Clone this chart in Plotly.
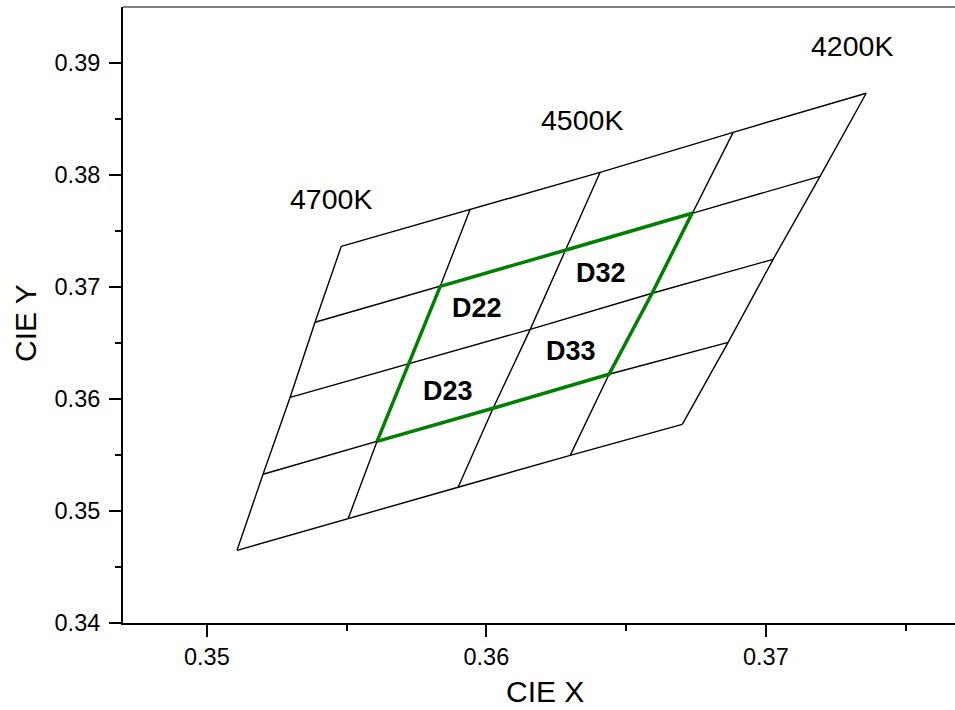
import plotly.graph_objects as go

# Grid nodes (rows = Duv lines bottom->top, columns = CCT lines left->right)
grid_x = [
    [0.35108, 0.35506, 0.35899, 0.36300, 0.36701],
    [0.35201, 0.35609, 0.36024, 0.36439, 0.36865],
    [0.35298, 0.35724, 0.36157, 0.36593, 0.37026],
    [0.35387, 0.35835, 0.36282, 0.36736, 0.37194],
    [0.35481, 0.35942, 0.36407, 0.36883, 0.37359],
]
grid_y = [
    [0.34649, 0.34935, 0.35212, 0.35497, 0.35774],
    [0.35328, 0.35622, 0.35917, 0.36221, 0.36506],
    [0.36015, 0.36319, 0.36622, 0.36944, 0.37247],
    [0.36685, 0.37006, 0.37328, 0.37658, 0.37988],
    [0.37363, 0.37694, 0.38024, 0.38381, 0.38730],
]
# highlighted bin outline: (row, col) node path
green_path = [(1, 1), (2, 1), (3, 1), (3, 2), (3, 3), (2, 3), (1, 3), (1, 2), (1, 1)]

cct_labels = ["4700K", "4500K", "4200K"]
cct_label_x = [0.35445, 0.36342, 0.37309]
cct_label_y = [0.37790, 0.38489, 0.39149]

bin_labels = ["D22", "D32", "D33", "D23"]
bin_label_x = [0.35966, 0.36409, 0.36302, 0.35863]
bin_label_y = [0.36810, 0.37126, 0.36427, 0.36069]

x_ticks = [0.35, 0.36, 0.37]
y_ticks = [0.34, 0.35, 0.36, 0.37, 0.38, 0.39]

FONT = "Liberation Sans, Arial, sans-serif"

W, H = 955, 710
ML, MR, MT, MB = 123, 0, 7, 87
pw = W - ML - MR
ph = H - MT - MB

fig = go.Figure()
nrows = len(grid_x)
ncols = len(grid_x[0])
for r in range(nrows):
    fig.add_trace(go.Scatter(x=grid_x[r], y=grid_y[r], mode="lines",
                             line=dict(color="black", width=1.4),
                             showlegend=False, hoverinfo="skip"))
for c in range(ncols):
    fig.add_trace(go.Scatter(x=[grid_x[r][c] for r in range(nrows)],
                             y=[grid_y[r][c] for r in range(nrows)], mode="lines",
                             line=dict(color="black", width=1.4),
                             showlegend=False, hoverinfo="skip"))
fig.add_trace(go.Scatter(x=[grid_x[r][c] for r, c in green_path],
                         y=[grid_y[r][c] for r, c in green_path], mode="lines",
                         line=dict(color="#008000", width=3.5),
                         showlegend=False, hoverinfo="skip"))

annotations = []
for t, x, y in zip(cct_labels, cct_label_x, cct_label_y):
    annotations.append(dict(x=x, y=y, xref="x", yref="y", text=t, showarrow=False,
                            font=dict(family=FONT, size=28.5, color="black"),
                            xanchor="center", yanchor="middle"))
for t, x, y in zip(bin_labels, bin_label_x, bin_label_y):
    annotations.append(dict(x=x, y=y, xref="x", yref="y", text="<b>" + t + "</b>",
                            showarrow=False,
                            font=dict(family=FONT, size=27, color="black"),
                            xanchor="center", yanchor="middle"))

# axis titles placed at page pixel positions
def px_to_paper(px, py):
    return (px - ML) / pw, (MT + ph - py) / ph

tx, ty = px_to_paper(545, 692)
annotations.append(dict(x=tx, y=ty, xref="paper", yref="paper", text="CIE X",
                        showarrow=False, font=dict(family=FONT, size=30, color="black"),
                        xanchor="center", yanchor="middle"))
tx, ty = px_to_paper(25, 323)
annotations.append(dict(x=tx, y=ty, xref="paper", yref="paper",
                        text="CIE Y", textangle=-90, showarrow=False,
                        font=dict(family=FONT, size=30, color="black"),
                        xanchor="center", yanchor="middle"))

fig.update_layout(
    width=W, height=H,
    margin=dict(l=ML, r=MR, t=MT, b=MB),
    plot_bgcolor="white", paper_bgcolor="white",
    showlegend=False,
    annotations=annotations,
)

fig.update_xaxes(range=[0.347, 0.347 + pw / 27950], tickvals=x_ticks,
                 ticktext=[f"{v:.2f}" for v in x_ticks],
                 showgrid=False, zeroline=False, showline=True, linecolor="black",
                 linewidth=2, ticks="outside", ticklen=12, tickwidth=2, tickcolor="black",
                 tickfont=dict(family=FONT, size=23.5, color="black"),
                 minor=dict(tickvals=[0.355, 0.365, 0.375], ticks="outside", ticklen=6,
                            tickwidth=2, tickcolor="black"))
fig.update_yaxes(range=[0.34, 0.34 + ph / 11200], tickvals=y_ticks,
                 ticktext=[f"{v:.2f}" for v in y_ticks],
                 showgrid=False, zeroline=False, showline=True, linecolor="black",
                 linewidth=2, ticks="outside", ticklen=12, tickwidth=2, tickcolor="black",
                 tickfont=dict(family=FONT, size=23.5, color="black"),
                 ticklabelstandoff=4,
                 minor=dict(tickvals=[0.345, 0.355, 0.365, 0.375, 0.385], ticks="outside",
                            ticklen=6, tickwidth=2, tickcolor="black"))

# thin grey top frame line
fig.add_shape(type="line", xref="paper", yref="paper", x0=0, x1=1, y0=1, y1=1,
              line=dict(color="#808080", width=2))

fig.write_html("out.html",
               config={"displayModeBar": False},
               post_script="document.body.style.margin='0';document.body.style.overflow='hidden';")
